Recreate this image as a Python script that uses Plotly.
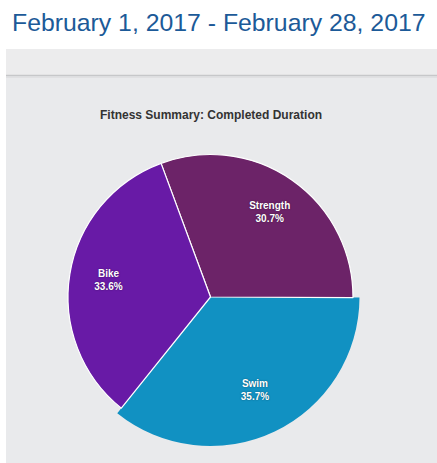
import plotly.graph_objects as go

# chart data
labels = ["Strength", "Swim", "Bike"]
shares = [30.7, 35.7, 33.6]
slice_colors = ["#6c2368", "#1191c2", "#681aa6"]

page_title = "February 1, 2017 - February 28, 2017"
chart_title = "Fitness Summary: Completed Duration"

W, H = 437, 463
CLEAR = "rgba(0,0,0,0)"


def px_x(x):
    return x / W


def px_y(y):
    return 1 - y / H


pie_dom = dict(x=[px_x(68), px_x(353)], y=[px_y(439.5), px_y(154.5)])
common = dict(labels=labels, values=shares, sort=False, direction="clockwise",
              rotation=-20.3, showlegend=False)

fig = go.Figure()

# swim slice is drawn a bit larger (hover-state look), underneath the main pie
fig.add_trace(go.Pie(
    **common,
    marker=dict(colors=[CLEAR, slice_colors[1], CLEAR], line=dict(width=0)),
    textinfo="none", hoverinfo="skip",
    domain=dict(x=[px_x(61.5), px_x(359.5)], y=[px_y(446), px_y(148)]),
))

# main pie: strength and bike with white separators
fig.add_trace(go.Pie(
    **common,
    marker=dict(colors=[slice_colors[0], CLEAR, slice_colors[2]],
                line=dict(color="white", width=[1.2, 0, 1.2])),
    textinfo="none",
    domain=pie_dom,
))

# transparent ring only used to place the data labels further out
fig.add_trace(go.Pie(
    **common,
    hole=0.45,
    marker=dict(colors=[CLEAR, CLEAR, CLEAR], line=dict(width=0)),
    texttemplate="<b>%{label}</b><br><b>%{percent:.1%}</b>", textposition="inside",
    insidetextorientation="horizontal",
    textfont=dict(family="Liberation Sans, Arial, sans-serif", size=10, color="white",
                  shadow="0px 0px 1.5px rgba(0,0,0,0.5)"),
    hoverinfo="skip",
    domain=pie_dom,
))

shapes = [
    # grey panel
    dict(type="rect", xref="paper", yref="paper", x0=px_x(6), x1=1.0, y0=0, y1=px_y(49),
         fillcolor="#e9eaec", line=dict(width=0), layer="below"),
    # header band
    dict(type="rect", xref="paper", yref="paper", x0=px_x(6), x1=1.0, y0=px_y(75), y1=px_y(49),
         fillcolor="#ececed", line=dict(width=0), layer="below"),
    # shadow under header
    dict(type="line", xref="paper", yref="paper", x0=px_x(6), x1=1.0, y0=px_y(75.5), y1=px_y(75.5),
         line=dict(color="#c6c7c9", width=1.5), layer="below"),
    dict(type="line", xref="paper", yref="paper", x0=px_x(6), x1=1.0, y0=px_y(77), y1=px_y(77),
         line=dict(color="#dcdddf", width=1.5), layer="below"),
]

annotations = [
    dict(text=page_title, xref="paper", yref="paper", x=px_x(10), y=px_y(23),
         xanchor="left", yanchor="middle", showarrow=False,
         font=dict(family="Liberation Sans, Arial, sans-serif", size=24.8, color="#1c5a98")),
    dict(text="<b>" + chart_title + "</b>", xref="paper", yref="paper", x=px_x(211), y=px_y(115),
         xanchor="center", yanchor="middle", showarrow=False,
         font=dict(family="Liberation Sans, Arial, sans-serif", size=12, color="#333333")),
]

fig.update_layout(
    width=W, height=H,
    margin=dict(l=0, r=0, t=0, b=0),
    paper_bgcolor="white", plot_bgcolor="white",
    shapes=shapes, annotations=annotations,
)

fig.write_html("out.html", config={"displayModeBar": False},
               post_script="document.body.style.margin='0';")
